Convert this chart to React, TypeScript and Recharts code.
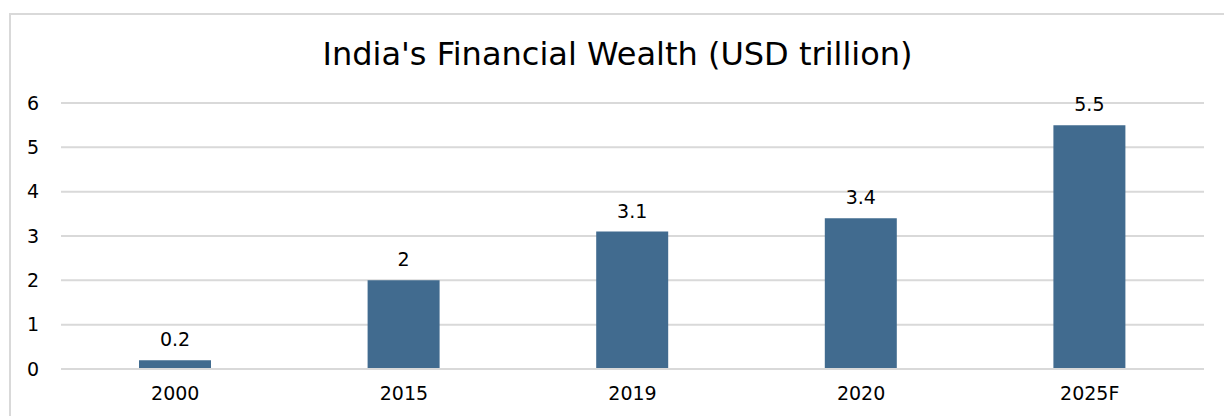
import React from 'react';
import { BarChart, Bar, XAxis, YAxis, CartesianGrid, LabelList } from 'recharts';

const years = ['2000', '2015', '2019', '2020', '2025F'];
const wealth = [0.2, 2, 3.1, 3.4, 5.5];
const yTicks = [0, 1, 2, 3, 4, 5, 6];

const BAR_COLOR = '#416b8f';
const GRID = '#d9d9d9';
const FONT = '"DejaVu Sans", Verdana, sans-serif';

const data = years.map((year, i) => ({ year, value: wealth[i] }));

const App: React.FC = () => {
    return (
        <div
            style={{
                position: 'absolute',
                left: 9,
                top: 13,
                width: 1215,
                height: 403,
                boxSizing: 'border-box',
                borderLeft: `2px solid ${GRID}`,
                borderTop: `2px solid ${GRID}`,
                background: '#fff',
                fontFamily: FONT,
            }}
        >
            <div
                style={{
                    position: 'absolute',
                    left: 0,
                    right: 0,
                    top: 20,
                    textAlign: 'center',
                    fontSize: 32,
                    lineHeight: '38px',
                    color: '#000',
                }}
            >
                India's Financial Wealth (USD trillion)
            </div>
            <BarChart
                width={1213}
                height={401}
                data={data}
                margin={{ top: 88, right: 20, bottom: 17, left: 0 }}
                barSize={72}
            >
                <CartesianGrid vertical={false} stroke={GRID} strokeWidth={2} />
                <XAxis
                    dataKey="year"
                    axisLine={{ stroke: GRID, strokeWidth: 2 }}
                    tickLine={false}
                    tickSize={0}
                    tickMargin={18}
                    height={30}
                    tick={{ fill: '#000', fontSize: 19, fontFamily: FONT }}
                />
                <YAxis
                    domain={[0, 6]}
                    ticks={yTicks}
                    axisLine={false}
                    tickLine={false}
                    tickSize={0}
                    tickMargin={22}
                    width={50}
                    tick={{ fill: '#000', fontSize: 19, fontFamily: FONT }}
                />
                <Bar dataKey="value" fill={BAR_COLOR} isAnimationActive={false}>
                    <LabelList
                        dataKey="value"
                        position="top"
                        offset={14}
                        fill="#000"
                        fontSize={19}
                        fontFamily={FONT}
                    />
                </Bar>
            </BarChart>
        </div>
    );
};

export default App;
